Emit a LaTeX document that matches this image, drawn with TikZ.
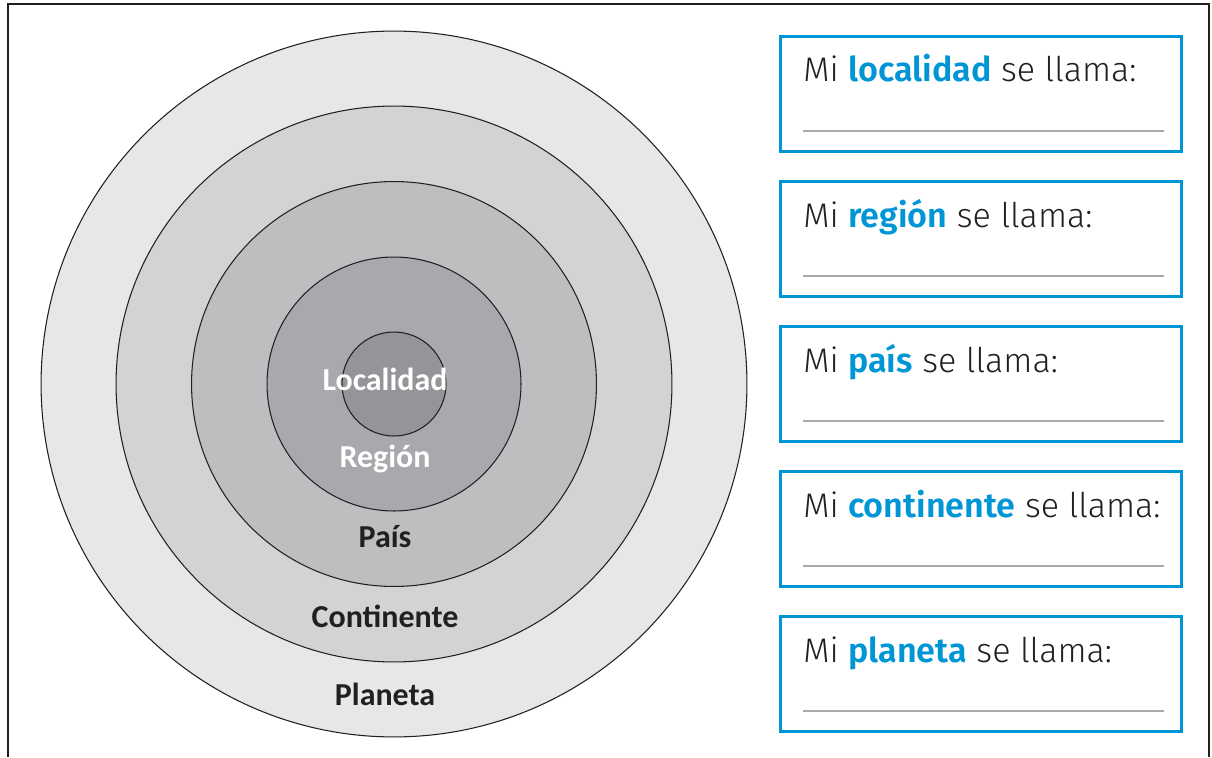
\documentclass[tikz,border=0pt]{standalone}
\usepackage{fontspec}
\setmainfont{Fira Sans}[UprightFont={* Light}, BoldFont={* SemiBold}]
\newfontfamily\lblfont{Carlito}
\usetikzlibrary{positioning}

\definecolor{mblue}{HTML}{0096D6}
\definecolor{ink}{HTML}{231F20}
\definecolor{ringA}{HTML}{E6E7E8}
\definecolor{ringB}{HTML}{D1D3D4}
\definecolor{ringC}{HTML}{BCBEC0}
\definecolor{ringD}{HTML}{A7A9AC}
\definecolor{ringE}{HTML}{939598}

\begin{document}
\begin{tikzpicture}[x=0.02cm, y=-0.02cm]

\tikzset{ring/.style = {draw=ink, line width=0.6pt}}
\tikzset{lbl/.style = {font=\lblfont\bfseries\fontsize{18.2}{18.2}\selectfont}}
\tikzset{namebox/.style = {draw=mblue, line width=1.6pt, minimum width=8.02cm, minimum height=2.3cm, inner sep=0pt}}
\tikzset{question/.style = {anchor=base west, text=ink, inner sep=0pt, font=\fontsize{19.4}{19.4}\selectfont}}
\tikzset{answer/.style = {draw=ringD, line width=0.6pt}}
\useasboundingbox (0,0) rectangle (1212,757);

% frame
\draw[ink, line width=1.2pt] (8,757) -- (8,4) -- (1209,4) -- (1209,757);

% rings
\coordinate (c) at (394,384);
\filldraw[ring, fill=ringA] (c) circle (7.06cm);
\filldraw[ring, fill=ringB] (c) circle (5.56cm);
\filldraw[ring, fill=ringC] (c) circle (4.05cm);
\filldraw[ring, fill=ringD] (c) circle (2.54cm);
\filldraw[ring, fill=ringE] (c) circle (1.04cm);

% labels
\node[lbl, text=white] (localidad) at (385,379) {Localidad};
\node[lbl, text=white] (region) at (385,459) {Región};
\node[lbl, text=ink] (pais) at (385,537) {País};
\node[lbl, text=ink] (continente) at (385,616) {Continente};
\node[lbl, text=ink] (planeta) at (385,694) {Planeta};

% boxes
\foreach \i/\y/\word in {1/35/localidad, 2/180/región, 3/325/país, 4/470/continente, 5/615/planeta} {
  \node[namebox, anchor=north west] (box\i) at (779,\y) {};
  \node[question] (q\i) at (803,\y+47) {Mi \textcolor{mblue}{\bfseries\word} se llama:};
  \coordinate (a\i) at (803,\y+96);
  \coordinate (b\i) at (1164,\y+96);
  \draw[answer] (a\i) -- (b\i);
}
\end{tikzpicture}
\end{document}
